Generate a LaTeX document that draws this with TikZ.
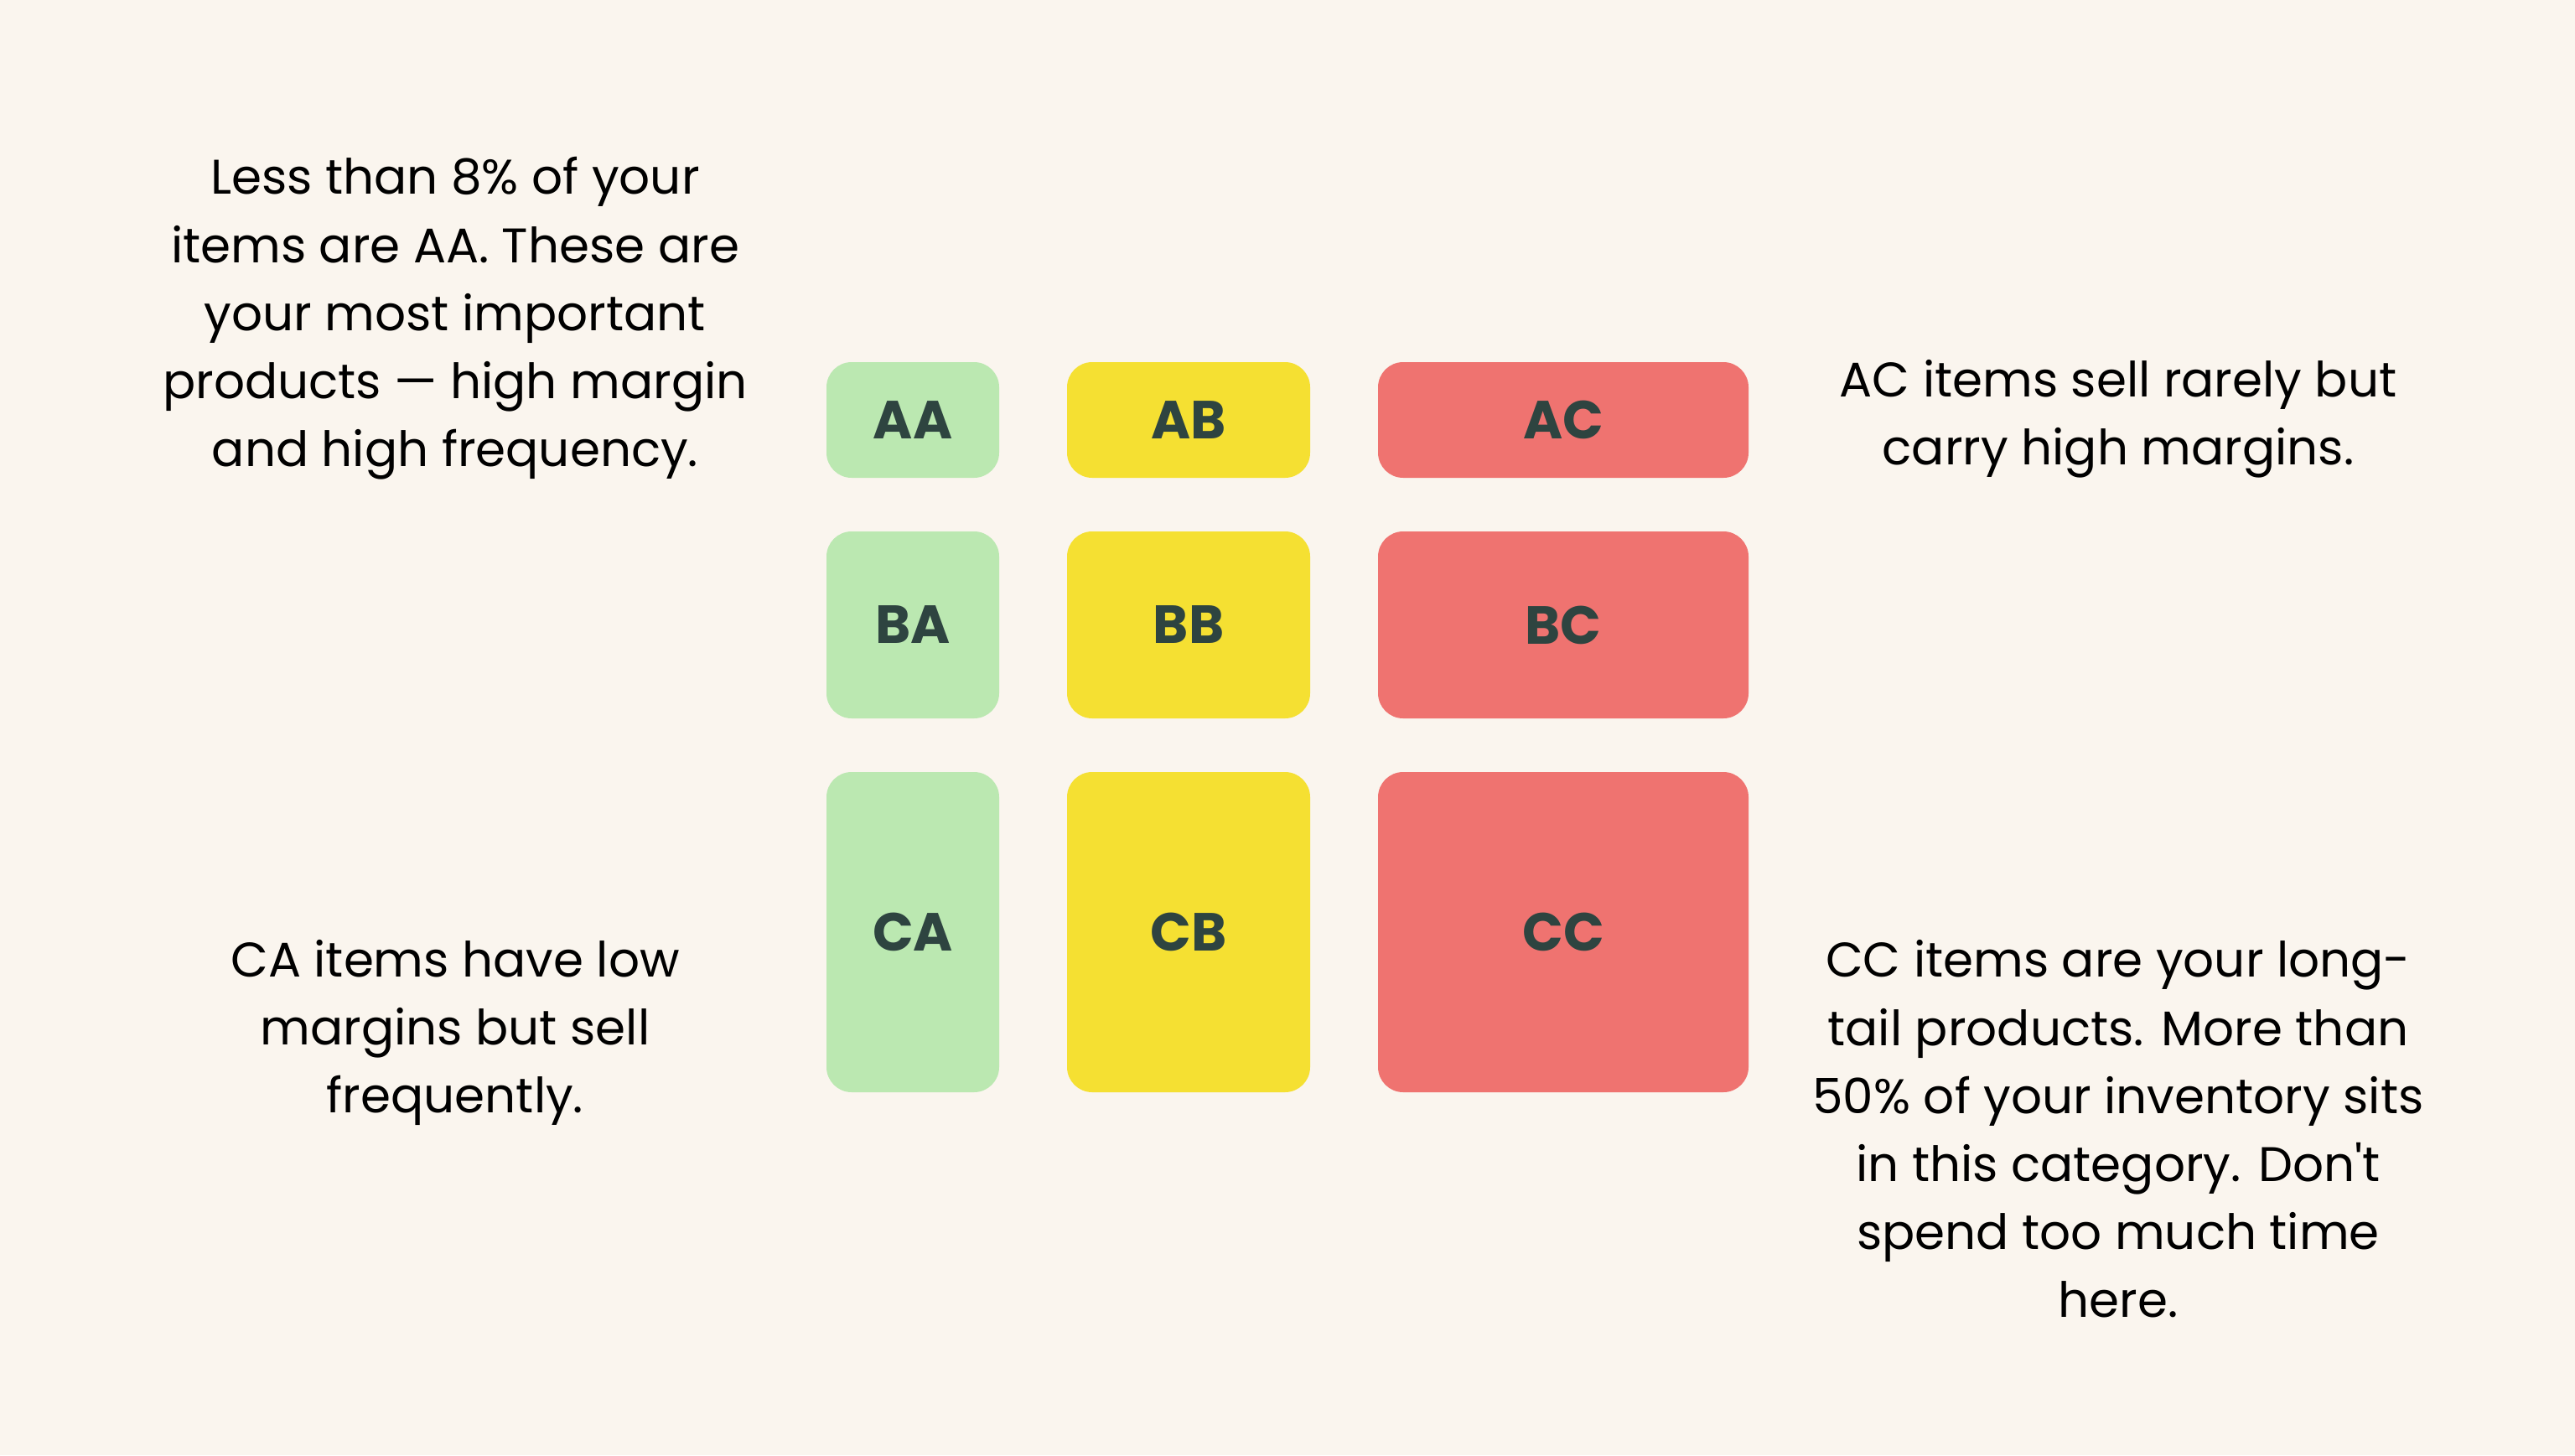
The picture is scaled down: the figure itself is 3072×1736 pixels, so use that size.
\documentclass[tikz,border=0pt]{standalone}
\usepackage{fontspec}
\setmainfont{Poppins}

\definecolor{bgcream}{HTML}{FAF5EE}
\definecolor{cellgreen}{HTML}{BBE8B1}
\definecolor{cellyellow}{HTML}{F5E032}
\definecolor{cellred}{HTML}{EF7370}
\definecolor{labelink}{HTML}{2E4440}

\tikzset{every picture/.style={line width=0.75pt}}
\tikzset{
  cell/.style={rounded corners=7.5pt, inner sep=0pt, text=labelink,
    font=\fontsize{16}{18}\selectfont\bfseries},
  note/.style={align=center, inner sep=0pt, text=black,
    font=\fontsize{14.5}{20.3}\selectfont}
}

\begin{document}
\begin{tikzpicture}[x=0.25pt,y=0.25pt,yscale=-1,xscale=1]
		%background, same size as the slide
		\fill [bgcream] (0,0) rectangle (3072,1736);
		\useasboundingbox (0,0) rectangle (3072,1736);

		%Row A
		\node (AA) [cell, fill=cellgreen, minimum width=51.5pt, minimum height=34.5pt] at (1089,501) {AA};
		\node (AB) [cell, fill=cellyellow, minimum width=72.5pt, minimum height=34.5pt] at (1418,501) {AB};
		\node (AC) [cell, fill=cellred, minimum width=110.5pt, minimum height=34.5pt] at (1865,501) {AC};
		%Row B
		\node (BA) [cell, fill=cellgreen, minimum width=51.5pt, minimum height=55.75pt] at (1089,745.5) {BA};
		\node (BB) [cell, fill=cellyellow, minimum width=72.5pt, minimum height=55.75pt] at (1418,745.5) {BB};
		\node (BC) [cell, fill=cellred, minimum width=110.5pt, minimum height=55.75pt] at (1865,745.5) {BC};
		%Row C
		\node (CA) [cell, fill=cellgreen, minimum width=51.5pt, minimum height=95.5pt] at (1089,1112) {CA};
		\node (CB) [cell, fill=cellyellow, minimum width=72.5pt, minimum height=95.5pt] at (1418,1112) {CB};
		\node (CC) [cell, fill=cellred, minimum width=110.5pt, minimum height=95.5pt] at (1865,1112) {CC};

		% Text Node
		\node (noteAA) [note] at (543,380) {Less than 8\% of your\\items are AA. These are\\your most important\\products — high margin\\and high frequency.};
		% Text Node
		\node (noteAC) [note] at (2527,500) {AC items sell rarely but\\carry high margins.};
		% Text Node
		\node (noteCA) [note] at (543,1232) {CA items have low\\margins but sell\\frequently.};
		% Text Node
		\node (noteCC) [note] at (2527,1347) {CC items are your long-\\tail products. More than\\50\% of your inventory sits\\in this category. Don\textquotesingle t\\spend too much time\\here.};

\end{tikzpicture}
\end{document}
